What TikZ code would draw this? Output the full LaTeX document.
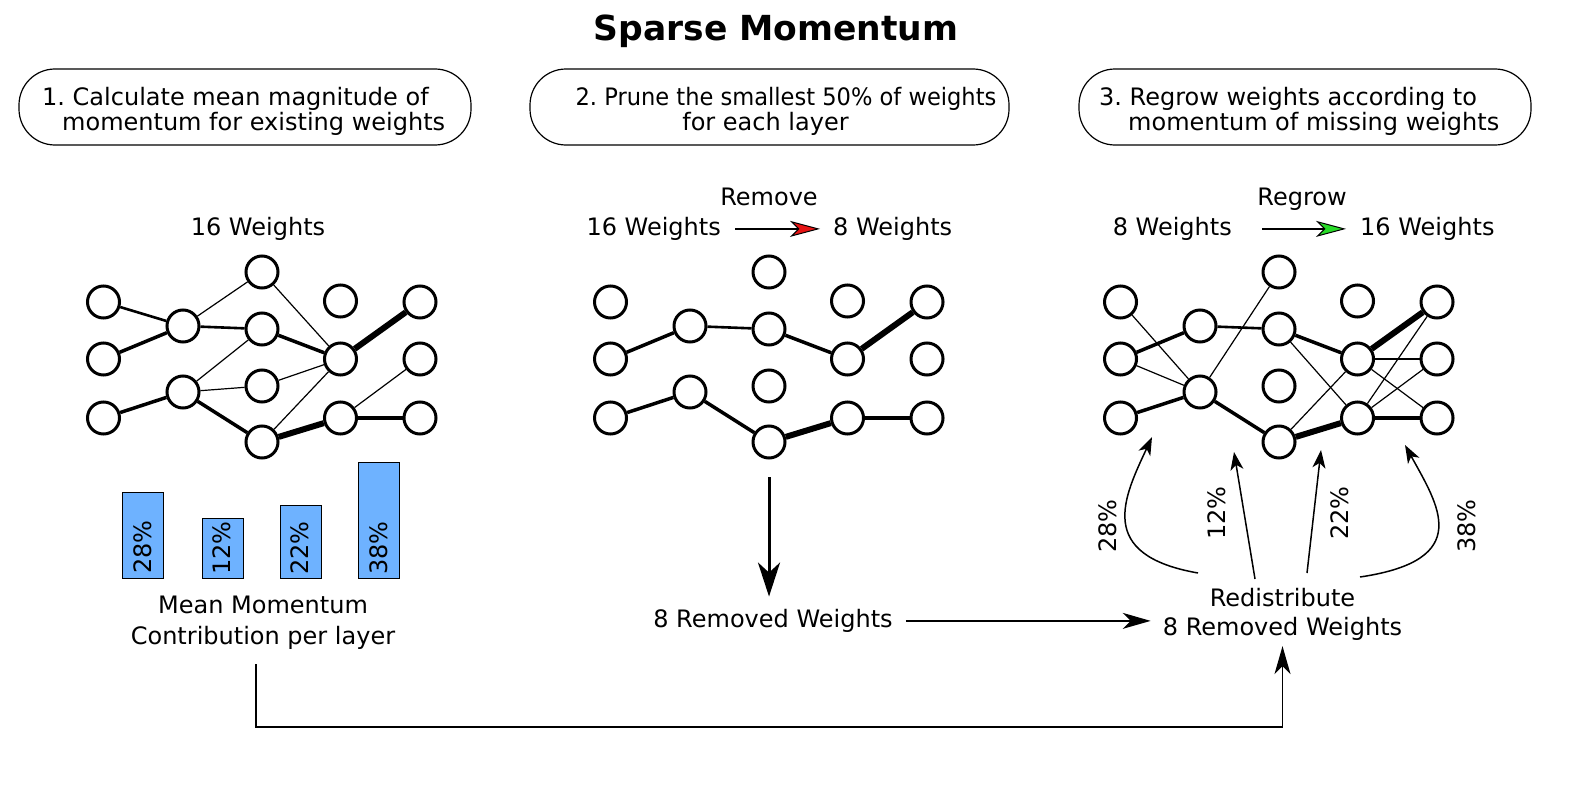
\documentclass[tikz,border=0pt]{standalone}
\usepackage{fontspec}
\setmainfont{DejaVu Sans}
\usetikzlibrary{arrows.meta}
\definecolor{barblue}{RGB}{110,178,255}
\definecolor{tipred}{RGB}{230,20,20}
\definecolor{tipgreen}{RGB}{40,220,40}
\frenchspacing
\newcommand\netnodes[1]{%
  \foreach \yy [count=\i] in {302,359,418} \node[neuron] (#1-1-\i) at (103.5,\yy) {};
  \foreach \yy [count=\i] in {326,392} \node[neuron] (#1-2-\i) at (183,\yy) {};
  \foreach \yy [count=\i] in {272,329,386,442} \node[neuron] (#1-3-\i) at (262,\yy) {};
  \foreach \yy [count=\i] in {301,359,418} \node[neuron] (#1-4-\i) at (340.5,\yy) {};
  \foreach \yy [count=\i] in {302,359,418} \node[neuron] (#1-5-\i) at (420,\yy) {};
}
\newcommand\nedge[3]{\draw[#1] (#2) -- (#3);}
\begin{document}
\begin{tikzpicture}[x=1bp,y=-1bp,
  txt/.style={font=\fontsize{24bp}{28bp}\selectfont, inner sep=0pt},
  neuron/.style={circle,draw,line width=3bp,minimum size=32bp,inner sep=0pt,fill=white},
  w1/.style={line width=1.2bp},
  w2/.style={line width=2.6bp},
  w3/.style={line width=3.5bp},
  w4/.style={line width=6bp},
  pill/.style={draw,line width=1.2bp,rounded corners=36bp,minimum height=76bp,inner sep=0pt},
  bar/.style={draw,fill=barblue,line width=1bp,minimum width=41bp,inner sep=0pt,anchor=south},
  arr/.style={line width=1.5bp,-{Stealth[length=18bp,width=13bp,inset=5bp]}},
  longarr/.style={line width=1.5bp,-{Stealth[length=28bp,width=16bp,inset=8bp]}},
  bigarr/.style={line width=3bp,-{Stealth[length=34bp,width=22bp,inset=10bp]}},
  redarr/.style={line width=1.5bp,-{Stealth[length=30bp,width=16bp,inset=8bp,line width=1bp,fill=tipred]}},
  greenarr/.style={line width=1.5bp,-{Stealth[length=30bp,width=16bp,inset=8bp,line width=1bp,fill=tipgreen]}},
]
\useasboundingbox (0,0) rectangle (1577,792);

% title
\node[font=\fontsize{34.5bp}{40bp}\selectfont\bfseries, inner sep=0pt, anchor=base] (title) at (776,40.4) {Sparse Momentum};

% header boxes
\node[pill, minimum width=452bp] (box1) at (245,107) {};
\node[txt, anchor=base west] (box1a) at (42,105) {1. Calculate mean magnitude of};
\node[txt, anchor=base west] (box1b) at (62,130.5) {momentum for existing weights};
\node[pill, minimum width=479bp] (box2) at (769.5,107) {};
\node[txt, anchor=base] (box2a) at (786,105) {\scalebox{0.94}[1]{2. Prune the smallest 50\% of weights}};
\node[txt, anchor=base] (box2b) at (765.5,130.5) {for each layer};
\node[pill, minimum width=452bp] (box3) at (1305,107) {};
\node[txt, anchor=base west] (box3a) at (1099,105) {3. Regrow weights according to};
\node[txt, anchor=base west] (box3b) at (1128,130.5) {momentum of missing weights};

% ---------- left network
\netnodes{L}
\nedge{w2}{L-1-1}{L-2-1}
\nedge{w3}{L-1-2}{L-2-1}
\nedge{w3}{L-1-3}{L-2-2}
\nedge{w1}{L-2-1}{L-3-1}
\nedge{w2}{L-2-1}{L-3-2}
\nedge{w1}{L-2-2}{L-3-2}
\nedge{w1}{L-2-2}{L-3-3}
\nedge{w3}{L-2-2}{L-3-4}
\nedge{w1}{L-3-1}{L-4-2}
\nedge{w3}{L-3-2}{L-4-2}
\nedge{w1}{L-3-3}{L-4-2}
\nedge{w1}{L-3-4}{L-4-2}
\nedge{w4}{L-3-4}{L-4-3}
\nedge{w4}{L-4-2}{L-5-1}
\nedge{w1}{L-4-3}{L-5-2}
\nedge{w3}{L-4-3}{L-5-3}

% ---------- middle network
\begin{scope}[xshift=507bp]
\netnodes{M}
\end{scope}
\nedge{w3}{M-1-2}{M-2-1}
\nedge{w2}{M-2-1}{M-3-2}
\nedge{w3}{M-3-2}{M-4-2}
\nedge{w4}{M-4-2}{M-5-1}
\nedge{w3}{M-1-3}{M-2-2}
\nedge{w3}{M-2-2}{M-3-4}
\nedge{w4}{M-3-4}{M-4-3}
\nedge{w3}{M-4-3}{M-5-3}

% ---------- right network
\begin{scope}[xshift=1017bp]
\netnodes{R}
\end{scope}
\nedge{w1}{R-1-1}{R-2-2}
\nedge{w3}{R-1-2}{R-2-1}
\nedge{w1}{R-1-2}{R-2-2}
\nedge{w3}{R-1-3}{R-2-2}
\nedge{w2}{R-2-1}{R-3-2}
\nedge{w1}{R-2-2}{R-3-1}
\nedge{w3}{R-2-2}{R-3-4}
\nedge{w3}{R-3-2}{R-4-2}
\nedge{w1}{R-3-2}{R-4-3}
\nedge{w1}{R-3-4}{R-4-2}
\nedge{w4}{R-3-4}{R-4-3}
\nedge{w4}{R-4-2}{R-5-1}
\nedge{w1}{R-4-2}{R-5-2}
\nedge{w1}{R-4-2}{R-5-3}
\nedge{w1}{R-4-3}{R-5-1}
\nedge{w1}{R-4-3}{R-5-2}
\nedge{w3}{R-4-3}{R-5-3}

% ---------- labels above networks
\node[txt, anchor=base] (l16) at (258,235.5) {16 Weights};
\node[txt, anchor=base] (rem) at (769,205.5) {Remove};
\node[txt, anchor=base east] (m16) at (721,235.5) {16 Weights};
\node[txt, anchor=base west] (m8) at (833,235.5) {8 Weights};
\draw[redarr, shorten <=14bp, shorten >=13bp] (m16.east) -- (m8.west);
\node[txt, anchor=base] (rg) at (1302,205.5) {Regrow};
\node[txt, anchor=base east] (r8) at (1232,235.5) {8 Weights};
\node[txt, anchor=base west] (r16) at (1360,235.5) {16 Weights};
\draw[greenarr, shorten <=30bp, shorten >=14bp] (r8.east) -- (r16.west);

% ---------- bars
\node[bar, minimum height=86bp] (b1) at (142.5,579) {};
\node[bar, minimum height=60bp] (b2) at (222.5,579) {};
\node[bar, minimum height=73bp] (b3) at (300.5,579) {};
\node[bar, minimum height=116bp] (b4) at (378.5,579) {};
\node[txt, rotate=90] (b1t) at (143,547) {28\%};
\node[txt, rotate=90] (b2t) at (221.7,548) {12\%};
\node[txt, rotate=90] (b3t) at (300,548) {22\%};
\node[txt, rotate=90] (b4t) at (378.5,548) {38\%};
\node[txt, align=center, font=\fontsize{24bp}{31bp}\selectfont] (mm) at (263,622.7) {Mean Momentum\\Contribution per layer};

% ---------- middle flow
\node[txt, anchor=base] (rw) at (773,627.5) {8 Removed Weights};
\draw[bigarr, shorten <=17.5bp, shorten >=12.5bp] (M-3-4.south) -- (M-3-4.south |- rw.north);
\node[txt, align=center, inner sep=5bp, font=\fontsize{24bp}{29bp}\selectfont] (redist) at (1282.5,614.8) {Redistribute\\8 Removed Weights};
\draw[longarr, shorten <=13bp, shorten >=7bp] (rw.east) -- (rw.east -| redist.west);

% ---------- bottom connector
\coordinate (cstart) at (256,664);
\coordinate (cbot) at (1282.5,727);
\draw[longarr] (cstart) |- (cbot) -- (redist.south);

% ---------- redistribution arrows
\coordinate (s1) at (1198,573); \coordinate (e1) at (1152,437);
\coordinate (s2) at (1255,579); \coordinate (e2) at (1234,452);
\coordinate (s3) at (1307,573); \coordinate (e3) at (1321,450);
\coordinate (s4) at (1360,577); \coordinate (e4) at (1405,445);
\draw[arr] (s1) .. controls (1095,555) and (1124,497) .. (e1);
\draw[arr] (s2) -- (e2);
\draw[arr] (s3) -- (e3);
\draw[arr] (s4) .. controls (1475,560) and (1438,505) .. (e4);
\node[txt, rotate=90] (p28) at (1108,526) {28\%};
\node[txt, rotate=90] (p12) at (1217,513) {12\%};
\node[txt, rotate=90] (p22) at (1340,513) {22\%};
\node[txt, rotate=90] (p38) at (1467,526) {38\%};
\end{tikzpicture}
\end{document}
